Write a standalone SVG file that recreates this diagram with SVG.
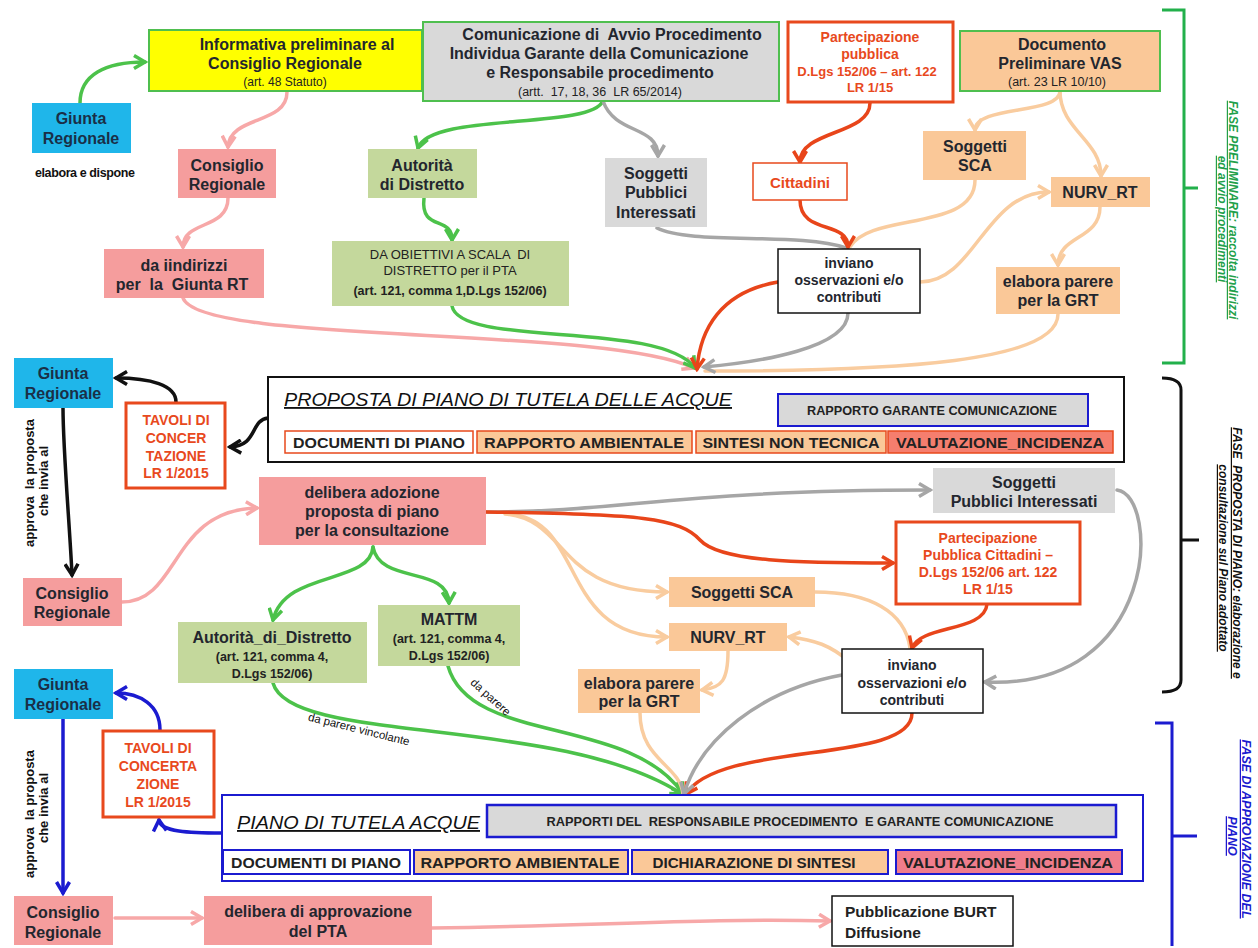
<svg xmlns="http://www.w3.org/2000/svg" width="1258" height="948" viewBox="0 0 1258 948">
<style>
text{font-family:"Liberation Sans",Arial,sans-serif;white-space:pre}
.t{font-weight:bold;font-size:16px;fill:#23262e;text-anchor:middle}
.s{font-size:12px;fill:#222;text-anchor:middle}
.sb{font-weight:bold;font-size:12.5px;fill:#222;text-anchor:middle}
.r{font-weight:bold;font-size:14px;fill:#E8491D;text-anchor:middle}
.g{fill:#1A2F47}
.doc{font-weight:bold;font-size:14.5px;fill:#222;text-anchor:middle}
.ttl{font-style:italic;font-size:18.5px;fill:#111;text-decoration:underline}
.rot{font-weight:bold;font-size:13px;fill:#111;text-anchor:middle}
.fase{font-style:italic;font-weight:bold;font-size:12px;text-anchor:middle;text-decoration:underline}
.cyan{fill:#1FB6EA}
.pink{fill:#F59D9D}
.grn{fill:#C4D89C}
.gry{fill:#D9D9D9}
.pch{fill:#FAC898}
.lk{fill:none;stroke-width:3.5;stroke-linecap:round}
.cg{stroke:#4CC24A}.cp{stroke:#F7A8A8}.cy{stroke:#A6A6A6}.cr{stroke:#E8451A}.co{stroke:#F9CC9F}.ck{stroke:#111}.cb{stroke:#1B1BD0}
</style>
<defs>
<marker id="mg" viewBox="0 0 16 16" refX="13" refY="8" markerWidth="16" markerHeight="16" markerUnits="userSpaceOnUse" orient="auto"><path d="M2,1.5 L13,8 L2,14.5" fill="none" stroke="#4CC24A" stroke-width="3.5"/></marker>
<marker id="mp" viewBox="0 0 16 16" refX="13" refY="8" markerWidth="16" markerHeight="16" markerUnits="userSpaceOnUse" orient="auto"><path d="M2,1.5 L13,8 L2,14.5" fill="none" stroke="#F7A8A8" stroke-width="3.5"/></marker>
<marker id="my" viewBox="0 0 16 16" refX="13" refY="8" markerWidth="16" markerHeight="16" markerUnits="userSpaceOnUse" orient="auto"><path d="M2,1.5 L13,8 L2,14.5" fill="none" stroke="#A6A6A6" stroke-width="3.5"/></marker>
<marker id="mr" viewBox="0 0 16 16" refX="13" refY="8" markerWidth="16" markerHeight="16" markerUnits="userSpaceOnUse" orient="auto"><path d="M2,1.5 L13,8 L2,14.5" fill="none" stroke="#E8451A" stroke-width="3.5"/></marker>
<marker id="mo" viewBox="0 0 16 16" refX="13" refY="8" markerWidth="16" markerHeight="16" markerUnits="userSpaceOnUse" orient="auto"><path d="M2,1.5 L13,8 L2,14.5" fill="none" stroke="#F9CC9F" stroke-width="3.5"/></marker>
<marker id="mk" viewBox="0 0 16 16" refX="13" refY="8" markerWidth="16" markerHeight="16" markerUnits="userSpaceOnUse" orient="auto"><path d="M2,1.5 L13,8 L2,14.5" fill="none" stroke="#111" stroke-width="3.5"/></marker>
<marker id="mb" viewBox="0 0 16 16" refX="13" refY="8" markerWidth="16" markerHeight="16" markerUnits="userSpaceOnUse" orient="auto"><path d="M2,1.5 L13,8 L2,14.5" fill="none" stroke="#1B1BD0" stroke-width="3.5"/></marker>
</defs>
<rect width="1258" height="948" fill="#fff"/>

<g id="connectors">
<!-- top section -->
<path class="lk cg" d="M80,103 C80,75 105,62 145,62" marker-end="url(#mg)"/>
<path class="lk cp" d="M287,92 C287,125 230,115 228,147" marker-end="url(#mp)"/>
<path class="lk cp" d="M228,198 C228,230 183,220 183,247" marker-end="url(#mp)"/>
<path class="lk cg" d="M603,101 C590,130 430,112 418,148" marker-end="url(#mg)"/>
<path class="lk cy" d="M603,101 C615,135 658,125 658,156" marker-end="url(#my)"/>
<path class="lk cg" d="M424,198 C420,232 452,215 452,240" marker-end="url(#mg)"/>
<path class="lk cr" d="M870,103 C870,135 800,130 800,162" marker-end="url(#mr)"/>
<path class="lk co" d="M1060,91 C1060,115 975,105 975,130" marker-end="url(#mo)"/>
<path class="lk co" d="M1060,91 C1060,130 1101,140 1101,176" marker-end="url(#mo)"/>
<path class="lk co" d="M975,180 C975,232 870,212 850,247"/>
<path class="lk cy" d="M657,228 C690,245 800,232 846,248"/>
<path class="lk cr" d="M800,200 C800,235 848,220 848,247" marker-end="url(#mr)"/>
<path class="lk co" d="M920,282 C975,282 985,192 1049,192" marker-end="url(#mo)"/>
<path class="lk co" d="M1100,207 C1100,240 1058,235 1058,265" marker-end="url(#mo)"/>
<path class="lk cp" d="M183,298 C200,345 600,325 694,368" marker-end="url(#mp)"/>
<path class="lk cg" d="M452,306 C460,348 660,320 695,368" marker-end="url(#mg)"/>
<path class="lk co" d="M1058,314 C1058,362 900,371 705,371"/>
<path class="lk cy" d="M848,313 C848,348 760,362 704,367" marker-end="url(#my)"/>
<path class="lk cr" d="M778,282 C720,292 700,330 697,369" marker-end="url(#mr)"/>
<!-- middle section -->
<path class="lk ck" d="M176,402 C176,385 150,378 116,378" marker-end="url(#mk)"/>
<path class="lk ck" d="M268,418 C250,420 258,446 230,447" marker-end="url(#mk)"/>
<path class="lk ck" d="M63,408 C63,450 70,530 72,575" marker-end="url(#mk)"/>
<path class="lk cp" d="M122,602 C180,602 170,510 257,508" marker-end="url(#mp)"/>
<path class="lk cy" d="M486,512 C620,512 680,490 930,490" marker-end="url(#my)"/>
<path class="lk co" d="M505,514 C570,520 555,592 667,592" marker-end="url(#mo)"/>
<path class="lk co" d="M515,515 C585,525 560,637 667,637" marker-end="url(#mo)"/>
<path class="lk cr" d="M486,512 C640,514 680,518 700,540 C720,562 800,563 893,563" marker-end="url(#mr)"/>
<path class="lk cg" d="M373,547 C370,585 285,570 273,620" marker-end="url(#mg)"/>
<path class="lk cg" d="M373,547 C380,585 448,565 449,603" marker-end="url(#mg)"/>
<path class="lk co" d="M815,592 C870,592 905,612 910,648"/>
<path class="lk cr" d="M987,604 C985,632 920,625 912,648" marker-end="url(#mr)"/>
<path class="lk co" d="M850,662 C830,645 815,640 789,637" marker-end="url(#mo)"/>
<path class="lk co" d="M728,651 C728,680 722,688 702,690" marker-end="url(#mo)"/>
<path class="lk cy" d="M1117,490 C1160,495 1160,690 985,682" marker-end="url(#my)"/>
<!-- convergence to PIANO -->
<path class="lk cg" d="M273,683 C290,745 560,715 682,794" marker-end="url(#mg)"/>
<path class="lk cg" d="M448,666 C470,745 630,715 683,794" marker-end="url(#mg)"/>
<path class="lk co" d="M640,713 C640,760 680,765 683,794"/>
<path class="lk cr" d="M912,713 C912,765 720,740 686,794" marker-end="url(#mr)"/>
<path class="lk cy" d="M842,675 C760,690 700,740 684,794" marker-end="url(#my)"/>
<!-- bottom section -->
<path class="lk cb" d="M160,730 C160,705 140,693 116,693" marker-end="url(#mb)"/>
<path class="lk cb" d="M222,833 C190,833 160,832 159,820" marker-end="url(#mb)"/>
<path class="lk cb" d="M63,719 L63,893" marker-end="url(#mb)"/>
<path class="lk cp" d="M115,918 L202,918" marker-end="url(#mp)"/>
<path class="lk cp" d="M432,928 C600,926 700,918 830,921" marker-end="url(#mp)"/>
<!-- labels on connectors -->
<text x="358" y="733" transform="rotate(14 358 733)" style="font-size:11.5px;fill:#111;text-anchor:middle">da parere vincolante</text>
<text x="488" y="700" transform="rotate(42 488 700)" style="font-size:11.5px;fill:#111;text-anchor:middle">da parere</text>
</g>

<!-- brackets -->
<g id="bracket-preliminare">
<path d="M1162,10 H1184 V363 H1162 M1184,188 H1198" fill="none" stroke="#22B04B" stroke-width="3"/>
<text class="fase" style="fill:#22A04B" transform="translate(1229,210) rotate(90)" x="0" y="0">FASE PRELIMINARE: raccolta indirizzi</text>
<text class="fase" style="fill:#22A04B" transform="translate(1218,219) rotate(90)" x="0" y="0">ed avvio procedimenti</text>
</g>
<g id="bracket-proposta">
<path d="M1162,378 Q1181,378 1181,390 V680 Q1181,692 1162,692 M1181,540 H1199" fill="none" stroke="#111" stroke-width="3"/>
<text class="fase" style="fill:#111" transform="translate(1233,553) rotate(90)" x="0" y="0">FASE  PROPOSTA DI PIANO: elaborazione e</text>
<text class="fase" style="fill:#111" transform="translate(1219,558) rotate(90)" x="0" y="0">consultazione sul Piano adottato</text>
</g>
<g id="bracket-approvazione">
<path d="M1155,723 H1172 V946 M1172,836 H1197" fill="none" stroke="#1B1BD0" stroke-width="3"/>
<text class="fase" style="fill:#1B1BD0;font-size:12.5px" transform="translate(1242,829) rotate(90)" x="0" y="0">FASE DI APPROVAZIONE DEL</text>
<text class="fase" style="fill:#1B1BD0;font-size:12.5px" transform="translate(1228,836) rotate(90)" x="0" y="0">PIANO</text>
</g>

<!-- top nodes -->
<g id="giunta1"><rect class="cyan" x="32" y="103" width="99" height="50"/><text class="t g" x="81" y="124">Giunta</text><text class="t g" x="81" y="144">Regionale</text></g>
<g id="elabora-dispone"><text x="35" y="177" style="font-weight:bold;font-size:12.5px;fill:#111;letter-spacing:-0.4px">elabora e dispone</text></g>
<g id="informativa"><rect x="149" y="30" width="273" height="61" fill="#FFFF00" stroke="#4FBF4F" stroke-width="2"/><text class="t" x="297" y="50">Informativa preliminare al</text><text class="t" x="285" y="69">Consiglio Regionale</text><text class="s" x="285" y="86">(art. 48 Statuto)</text></g>
<g id="comunicazione"><rect class="gry" x="423" y="22" width="356" height="79" stroke="#4FBF4F" stroke-width="2"/><text class="t" x="612" y="40">Comunicazione di  Avvio Procedimento</text><text class="t" x="599" y="59">Individua Garante della Comunicazione</text><text class="t" x="600" y="78">e Responsabile procedimento</text><text class="s" x="600" y="96" style="font-size:12.5px">(artt.  17, 18, 36  LR 65/2014)</text></g>
<g id="partecipazione1"><rect x="788" y="22" width="165" height="80" fill="#fff" stroke="#E8491D" stroke-width="3"/><text class="r" x="870" y="42">Partecipazione</text><text class="r" x="870" y="59">pubblica</text><text class="r" x="867" y="76" style="font-size:13px">D.Lgs 152/06 – art. 122</text><text class="r" x="870" y="92" style="font-size:13px">LR 1/15</text></g>
<g id="documento-vas"><rect class="pch" x="960" y="31" width="200" height="60" stroke="#4FBF4F" stroke-width="2"/><text class="t" x="1062" y="50">Documento</text><text class="t" x="1060" y="69">Preliminare VAS</text><text x="1008" y="86" style="font-size:12.5px;fill:#222">(art. 23 LR 10/10)</text></g>
<g id="consiglio1"><rect class="pink" x="178" y="149" width="98" height="49"/><text class="t" x="227" y="171">Consiglio</text><text class="t" x="227" y="190">Regionale</text></g>
<g id="autorita1"><rect class="grn" x="368" y="149" width="109" height="49"/><text class="t" x="422" y="171">Autorità</text><text class="t" x="422" y="190">di Distretto</text></g>
<g id="soggetti-pubblici1"><rect class="gry" x="605" y="158" width="102" height="69"/><text class="t" x="656" y="179">Soggetti</text><text class="t" x="656" y="198">Pubblici</text><text class="t" x="656" y="218">Interessati</text></g>
<g id="cittadini"><rect x="753" y="163" width="94" height="37" fill="#fff" stroke="#E8491D" stroke-width="1.5"/><text class="r" x="800" y="188" style="font-size:15px">Cittadini</text></g>
<g id="sca1"><rect class="pch" x="923" y="131" width="103" height="49"/><text class="t" x="975" y="152">Soggetti</text><text class="t" x="975" y="171">SCA</text></g>
<g id="nurv1"><rect class="pch" x="1051" y="177" width="99" height="30"/><text class="t" x="1100" y="198">NURV_RT</text></g>
<g id="indirizzi"><rect class="pink" x="104" y="249" width="160" height="49"/><text class="t" x="184" y="271">da iindirizzi</text><text class="t" x="182" y="290">per  la  Giunta RT</text></g>
<g id="obiettivi"><rect class="grn" x="332" y="241" width="237" height="65"/><text x="450" y="259" style="font-size:13px;fill:#222;text-anchor:middle">DA OBIETTIVI A SCALA  DI</text><text x="450" y="275" style="font-size:13px;fill:#222;text-anchor:middle">DISTRETTO per il PTA</text><text class="sb" x="450" y="295">(art. 121, comma 1,D.Lgs 152/06)</text></g>
<g id="inviano1"><rect x="778" y="249" width="142" height="64" fill="#fff" stroke="#111" stroke-width="1.5"/><text class="t" x="849" y="268" style="font-size:14px">inviano</text><text class="t" x="849" y="285" style="font-size:14px">osservazioni e/o</text><text class="t" x="849" y="302" style="font-size:14px">contributi</text></g>
<g id="elabora1"><rect class="pch" x="996" y="267" width="124" height="47"/><text class="t" x="1058" y="287">elabora parere</text><text class="t" x="1058" y="306">per la GRT</text></g>

<!-- middle nodes -->
<g id="proposta-piano"><rect x="268" y="377" width="856" height="85" fill="#fff" stroke="#111" stroke-width="2"/>
<text class="ttl" x="284" y="406" textLength="448" lengthAdjust="spacingAndGlyphs">PROPOSTA DI PIANO DI TUTELA DELLE ACQUE</text>
<rect class="gry" x="778" y="394" width="310" height="32" stroke="#1B1BD0" stroke-width="2"/><text class="sb" x="932" y="415" style="font-size:12.5px" textLength="250" lengthAdjust="spacingAndGlyphs">RAPPORTO GARANTE COMUNICAZIONE</text>
<rect x="285" y="431" width="188" height="22" fill="#fff" stroke="#E8491D" stroke-width="1.5"/><text class="doc" x="379" y="448" textLength="172" lengthAdjust="spacingAndGlyphs">DOCUMENTI DI PIANO</text>
<rect class="pch" x="477" y="431" width="215" height="22" stroke="#E8491D" stroke-width="1.5"/><text class="doc" x="584" y="448" textLength="200" lengthAdjust="spacingAndGlyphs">RAPPORTO AMBIENTALE</text>
<rect class="pch" x="696" y="431" width="190" height="22" stroke="#E8491D" stroke-width="1.5"/><text class="doc" x="791" y="448" textLength="177" lengthAdjust="spacingAndGlyphs">SINTESI NON TECNICA</text>
<rect x="888" y="431" width="225" height="22" fill="#F57E6E" stroke="#E8491D" stroke-width="1.5"/><text class="doc" x="1000" y="448" textLength="208" lengthAdjust="spacingAndGlyphs">VALUTAZIONE_INCIDENZA</text>
</g>
<g id="giunta2"><rect class="cyan" x="14" y="358" width="99" height="50"/><text class="t g" x="63" y="379">Giunta</text><text class="t g" x="63" y="399">Regionale</text></g>
<g id="tavoli1"><rect x="126" y="403" width="99" height="85" fill="#fff" stroke="#E8491D" stroke-width="3"/><text class="r" x="176" y="425">TAVOLI DI</text><text class="r" x="176" y="443">CONCER</text><text class="r" x="176" y="461">TAZIONE</text><text class="r" x="176" y="478">LR 1/2015</text></g>
<g id="approva1"><text class="rot" transform="translate(34,483) rotate(-90)" x="0" y="0">approva  la proposta</text><text class="rot" transform="translate(48,481) rotate(-90)" x="0" y="0">che invia al</text></g>
<g id="consiglio2"><rect class="pink" x="23" y="578" width="99" height="48"/><text class="t" x="72" y="599">Consiglio</text><text class="t" x="72" y="618">Regionale</text></g>
<g id="delibera-adozione"><rect class="pink" x="259" y="477" width="227" height="68"/><text class="t" x="372" y="498">delibera adozione</text><text class="t" x="372" y="517">proposta di piano</text><text class="t" x="372" y="536">per la consultazione</text></g>
<g id="soggetti-pubblici2"><rect class="gry" x="933" y="468" width="182" height="45"/><text class="t" x="1024" y="488">Soggetti</text><text class="t" x="1024" y="507">Pubblici Interessati</text></g>
<g id="partecipazione2"><rect x="896" y="522" width="184" height="82" fill="#fff" stroke="#E8491D" stroke-width="3"/><text class="r" x="988" y="543">Partecipazione</text><text class="r" x="988" y="560">Pubblica Cittadini –</text><text class="r" x="988" y="577">D.Lgs 152/06 art. 122</text><text class="r" x="988" y="594">LR 1/15</text></g>
<g id="sca2"><rect class="pch" x="669" y="577" width="146" height="30"/><text class="t" x="742" y="598">Soggetti SCA</text></g>
<g id="nurv2"><rect class="pch" x="669" y="623" width="118" height="28"/><text class="t" x="728" y="643">NURV_RT</text></g>
<g id="autorita2"><rect class="grn" x="178" y="622" width="189" height="61"/><text class="t" x="272" y="643">Autorità_di_Distretto</text><text class="sb" x="272" y="661">(art. 121, comma 4,</text><text class="sb" x="272" y="678">D.Lgs 152/06)</text></g>
<g id="mattm"><rect class="grn" x="378" y="605" width="142" height="61"/><text class="t" x="449" y="625">MATTM</text><text class="sb" x="449" y="643">(art. 121, comma 4,</text><text class="sb" x="449" y="660">D.Lgs 152/06)</text></g>
<g id="inviano2"><rect x="842" y="649" width="141" height="64" fill="#fff" stroke="#111" stroke-width="1.5"/><text class="t" x="912" y="670" style="font-size:14px">inviano</text><text class="t" x="912" y="688" style="font-size:14px">osservazioni e/o</text><text class="t" x="912" y="705" style="font-size:14px">contributi</text></g>
<g id="elabora2"><rect class="pch" x="578" y="669" width="122" height="44"/><text class="t" x="639" y="689">elabora parere</text><text class="t" x="639" y="707">per la GRT</text></g>

<!-- bottom nodes -->
<g id="piano-tutela"><rect x="222" y="795" width="921" height="86" fill="#fff" stroke="#1B1BD0" stroke-width="2"/>
<text class="ttl" x="237" y="829" textLength="243" lengthAdjust="spacingAndGlyphs">PIANO DI TUTELA ACQUE</text>
<rect class="gry" x="487" y="805" width="629" height="32" stroke="#1B1BD0" stroke-width="2.5"/><text class="sb" x="800" y="826" style="font-size:12.5px" textLength="507" lengthAdjust="spacingAndGlyphs">RAPPORTI DEL  RESPONSABILE PROCEDIMENTO  E GARANTE COMUNICAZIONE</text>
<rect x="223" y="850" width="187" height="24" fill="#fff" stroke="#1B1BD0" stroke-width="2"/><text class="doc" x="316" y="868" textLength="170" lengthAdjust="spacingAndGlyphs">DOCUMENTI DI PIANO</text>
<rect class="pch" x="414" y="850" width="214" height="24" stroke="#1B1BD0" stroke-width="2"/><text class="doc" x="520" y="868" textLength="199" lengthAdjust="spacingAndGlyphs">RAPPORTO AMBIENTALE</text>
<rect class="pch" x="632" y="850" width="256" height="24" stroke="#1B1BD0" stroke-width="2"/><text class="doc" x="754" y="868" textLength="203" lengthAdjust="spacingAndGlyphs">DICHIARAZIONE DI SINTESI</text>
<rect x="896" y="850" width="226" height="24" fill="#F07D8C" stroke="#1B1BD0" stroke-width="2"/><text class="doc" x="1008" y="868" textLength="210" lengthAdjust="spacingAndGlyphs">VALUTAZIONE_INCIDENZA</text>
</g>
<g id="giunta3"><rect class="cyan" x="14" y="669" width="99" height="50"/><text class="t g" x="63" y="690">Giunta</text><text class="t g" x="63" y="710">Regionale</text></g>
<g id="tavoli2"><rect x="103" y="731" width="111" height="86" fill="#fff" stroke="#E8491D" stroke-width="3"/><text class="r" x="158" y="753">TAVOLI DI</text><text class="r" x="158" y="771">CONCERTA</text><text class="r" x="158" y="789">ZIONE</text><text class="r" x="158" y="807">LR 1/2015</text></g>
<g id="approva2"><text class="rot" transform="translate(34,814) rotate(-90)" x="0" y="0">approva  la proposta</text><text class="rot" transform="translate(48,808) rotate(-90)" x="0" y="0">che invia al</text></g>
<g id="consiglio3"><rect class="pink" x="14" y="896" width="99" height="49"/><text class="t" x="63" y="918">Consiglio</text><text class="t" x="63" y="938">Regionale</text></g>
<g id="delibera-approvazione"><rect class="pink" x="204" y="896" width="228" height="49"/><text class="t" x="318" y="917">delibera di approvazione</text><text class="t" x="318" y="937">del PTA</text></g>
<g id="pubblicazione"><rect x="832" y="896" width="181" height="50" fill="#fff" stroke="#111" stroke-width="1.5"/><text x="845" y="917" style="font-weight:bold;font-size:15.5px;fill:#222">Pubblicazione BURT</text><text x="845" y="938" style="font-weight:bold;font-size:15.5px;fill:#222">Diffusione</text></g>
</svg>
